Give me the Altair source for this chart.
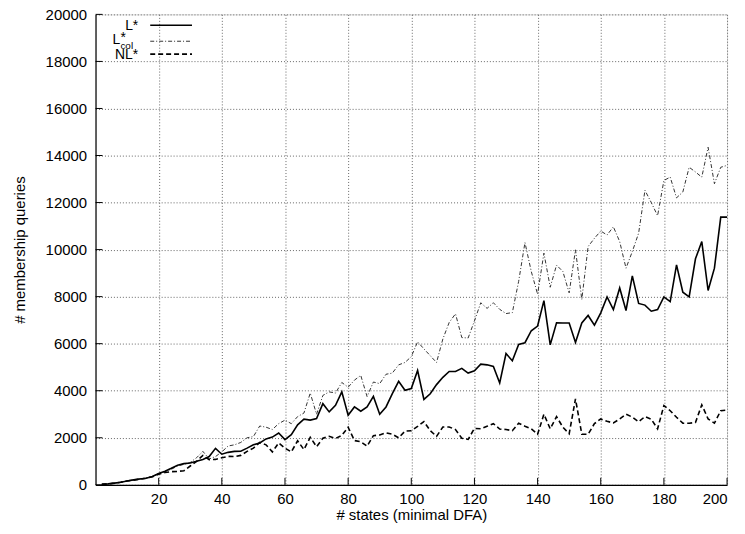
import altair as alt
import pandas as pd

states = list(range(2, 201, 2))

lstar = [20, 40, 70, 110, 160, 210, 250, 280, 350, 480,
         580, 700, 830, 900, 930, 1000, 1080, 1200, 1550, 1300,
         1380, 1420, 1430, 1560, 1700, 1780, 1950, 2030, 2200, 1920,
         2130, 2550, 2790, 2750, 2820, 3450, 3100, 3380, 3950, 2960,
         3310, 3130, 3310, 3760, 3000, 3310, 3880, 4400, 4020, 4090,
         4860, 3630, 3870, 4260, 4570, 4820, 4820, 4950, 4750, 4850,
         5130, 5100, 5030, 4330, 5580, 5270, 5970, 6040, 6550, 6750,
         7830, 5950, 6890, 6880, 6880, 6050, 6880, 7200, 6790, 7310,
         7990, 7450, 8370, 7410, 8880, 7710, 7640, 7380, 7450, 7990,
         7790, 9350, 8190, 7990, 9610, 10340, 8260, 9210, 11380, 11380]

lstar_col = [20, 40, 70, 110, 160, 210, 250, 290, 350, 480,
             560, 660, 800, 870, 950, 1150, 1420, 1100, 1200, 1400,
             1650, 1700, 1800, 2000, 2050, 2500, 2450, 2350, 2600, 2750,
             2600, 2900, 3050, 3900, 3000, 3800, 3950, 3900, 4350, 4150,
             4450, 4650, 3750, 4370, 4300, 4700, 4750, 5100, 5200, 5450,
             6080, 5780, 5490, 5200, 6200, 6900, 7270, 6260, 6240, 6970,
             7740, 7500, 7740, 7460, 7280, 7320, 8650, 10300, 9070, 8100,
             9850, 8400, 9340, 9070, 8160, 9990, 7880, 10130, 10480, 10790,
             10620, 10970, 10340, 9210, 9920, 10700, 12520, 12000, 11440, 12940,
             13080, 12200, 12450, 13500, 13300, 13080, 14350, 12800, 13500, 13580]

nlstar = [20, 40, 70, 110, 160, 200, 240, 280, 340, 450,
          520, 560, 570, 600, 800, 1000, 1250, 1070, 1080, 1150,
          1210, 1200, 1250, 1420, 1560, 1800, 1700, 1400, 1780, 1560,
          1400, 1870, 1500, 2020, 1620, 1980, 2060, 1970, 2100, 2450,
          1880, 1830, 1640, 2090, 2120, 2210, 2150, 2000, 2280, 2300,
          2480, 2690, 2300, 2060, 2460, 2460, 2350, 1980, 1930, 2400,
          2380, 2490, 2600, 2370, 2350, 2300, 2620, 2490, 2380, 2150,
          3000, 2380, 2900, 2450, 2170, 3650, 2150, 2150, 2600, 2800,
          2700, 2630, 2800, 3000, 2880, 2680, 2900, 2790, 2380, 3370,
          3150, 2870, 2620, 2620, 2650, 3400, 2800, 2620, 3150, 3180]

x_ticks = list(range(20, 201, 20))
y_ticks = list(range(0, 20001, 2000))

legend_labels = ["L*", "L", "*", "col", "NL*"]

FONT = "Liberation Sans"
W, H = 635, 473

df = pd.DataFrame({"states": states, "lstar": lstar, "lcol": lstar_col, "nl": nlstar})
one = pd.DataFrame({"k": [0]})

xscale = alt.Scale(domain=[0, 200], nice=False, zero=False)
yscale = alt.Scale(domain=[0, 20000], nice=False)

xaxis = alt.Axis(values=x_ticks, grid=True, gridDash=[1, 2], gridColor="#666",
                 domainColor="black", domainWidth=1.2, tickSize=0, labelPadding=7,
                 labelFontSize=15, labelFont=FONT, labelColor="black",
                 title="# states (minimal DFA)", titleFont=FONT, titleFontSize=15,
                 titleFontWeight="normal", titleColor="black", titlePadding=1)
yaxis = alt.Axis(values=y_ticks, grid=True, gridDash=[1, 2], gridColor="#666",
                 domainColor="black", domainWidth=1.2, tickSize=0, labelPadding=9,
                 labelFontSize=15, labelFont=FONT, labelColor="black", format="d",
                 title="# membership queries", titleFont=FONT, titleFontSize=15,
                 titleFontWeight="normal", titleColor="black", titlePadding=18)

base = alt.Chart(df)
x_enc = alt.X("states:Q", scale=xscale, axis=xaxis)

l1 = base.mark_line(color="black", strokeWidth=1.6).encode(
    x=x_enc, y=alt.Y("lstar:Q", scale=yscale, axis=yaxis))
l2 = base.mark_line(color="#333", strokeWidth=1, strokeDash=[4, 2, 1, 2]).encode(
    x="states:Q", y="lcol:Q")
l3 = base.mark_line(color="black", strokeWidth=1.6, strokeDash=[5, 3]).encode(
    x="states:Q", y="nl:Q")

xt = alt.Chart(pd.DataFrame({"t": x_ticks})).mark_rule(color="black", strokeWidth=1).encode(
    x="t:Q", y=alt.value(H), y2=alt.value(H - 7))
yt = alt.Chart(pd.DataFrame({"t": y_ticks})).mark_rule(color="black", strokeWidth=1).encode(
    y="t:Q", x=alt.value(0), x2=alt.value(7))

# legend (top-left, inside plot area)
leg_txt = dict(font=FONT, fontSize=14, color="black", baseline="middle")
t1 = alt.Chart(one).mark_text(align="right", text=legend_labels[0], **leg_txt).encode(
    x=alt.value(43), y=alt.value(12))
t2a = alt.Chart(one).mark_text(align="left", text=legend_labels[1], **leg_txt).encode(
    x=alt.value(17), y=alt.value(26))
t2s = alt.Chart(one).mark_text(align="left", text=legend_labels[2], font=FONT, fontSize=14,
                               color="black", baseline="middle").encode(
    x=alt.value(25), y=alt.value(24))
t2b = alt.Chart(one).mark_text(align="left", text=legend_labels[3], font=FONT, fontSize=10,
                               color="black", baseline="middle").encode(
    x=alt.value(25), y=alt.value(32))
t3 = alt.Chart(one).mark_text(align="right", text=legend_labels[4], **leg_txt).encode(
    x=alt.value(43), y=alt.value(41))
s1 = alt.Chart(one).mark_rule(color="black", strokeWidth=1.6).encode(
    x=alt.value(55), x2=alt.value(97), y=alt.value(11))
s2 = alt.Chart(one).mark_rule(color="#333", strokeWidth=1, strokeDash=[4, 2, 1, 2]).encode(
    x=alt.value(55), x2=alt.value(97), y=alt.value(27))
s3 = alt.Chart(one).mark_rule(color="black", strokeWidth=1.6, strokeDash=[5, 3]).encode(
    x=alt.value(55), x2=alt.value(97), y=alt.value(40))

chart = alt.layer(l2, l3, l1, xt, yt, t1, t2a, t2s, t2b, t3, s1, s2, s3).properties(
    width=W, height=H,
    autosize=alt.AutoSizeParams(type="none"),
    padding={"left": 88, "top": 5, "right": 10, "bottom": 40},
).configure_view(stroke=None).configure(background="white")

chart.save("out.html", embed_options={"renderer": "svg", "actions": False})
